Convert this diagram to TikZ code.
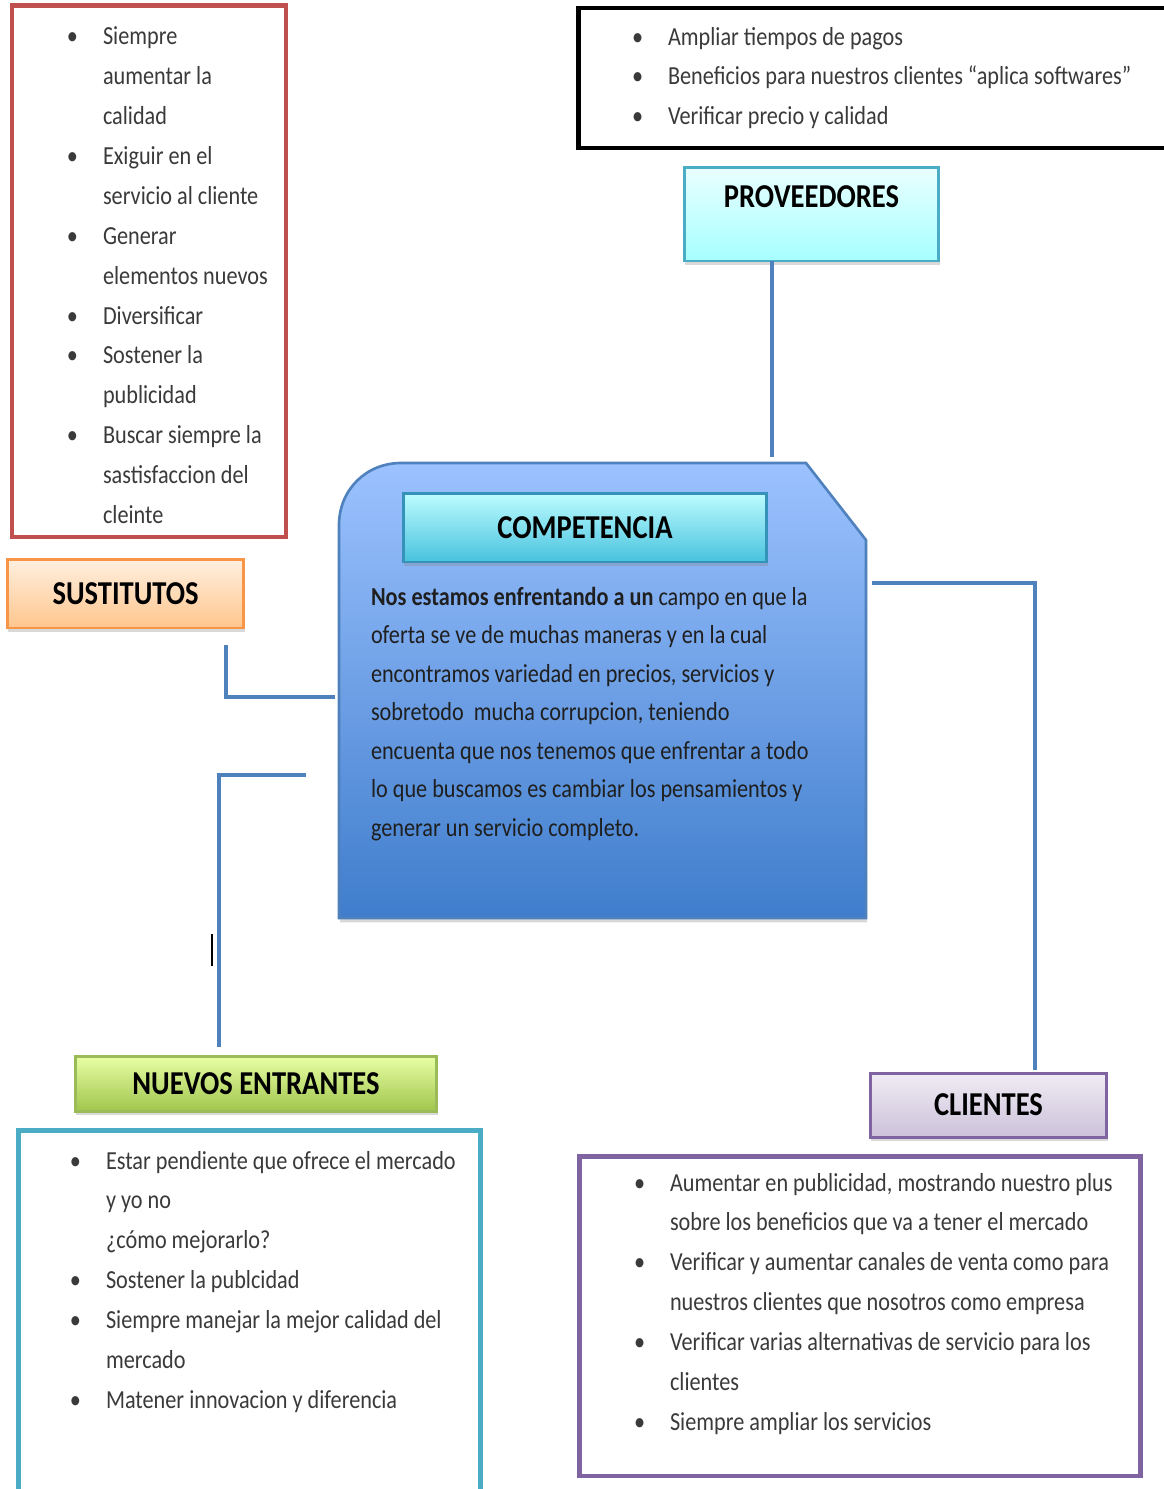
\documentclass[tikz,border=0pt]{standalone}
\usepackage{fontspec}
\setmainfont{Carlito}[FakeStretch=0.855]
\usetikzlibrary{shadows}

\definecolor{linkblue}{HTML}{4F81BD}
\definecolor{sustred}{HTML}{C0504D}
\definecolor{listcyan}{HTML}{4BACC6}
\definecolor{cliepurple}{HTML}{8064A2}
\definecolor{sustorange}{HTML}{F79646}
\definecolor{nuevgreen}{HTML}{9BBB59}
\definecolor{listgray}{HTML}{3A3A3A}
\definecolor{comptop}{HTML}{9CC2FF}
\definecolor{compbottom}{HTML}{3F7DCC}
\definecolor{cyantop}{HTML}{BDFCFF}
\definecolor{cyanbottom}{HTML}{48C2DE}

\newcommand{\bul}{\makebox[20.5pt][l]{\textbullet}}
\newcommand{\ind}{\hspace*{20.5pt}}

\begin{document}
\begin{tikzpicture}[
    x=0.02cm, y=-0.02cm,
    every node/.style={inner sep=0pt, outer sep=0pt},
    link/.style={draw=linkblue, line width=2.8pt},
    listbox/.style={draw=#1, line width=2.8pt, fill=white},
    listtext/.style={anchor=north west, align=left, text=listgray,
        font=\fontsize{14.8}{22.7}\selectfont},
    titlebox/.style={draw=#1, line width=1.7pt, align=center,
        font=\bfseries\fontsize{19}{22}\selectfont,
        drop shadow={shadow xshift=0.6pt, shadow yshift=-2.2pt, opacity=0.3}},
    compshape/.style={draw=linkblue, line width=1.5pt,
        top color=comptop, bottom color=compbottom,
        drop shadow={shadow xshift=0.6pt, shadow yshift=-2.5pt, opacity=0.3}},
    paratext/.style={anchor=north west, align=left, text=black!88,
        font=\fontsize{14.8}{21.9}\selectfont}
]
\useasboundingbox (0,0) rectangle (1164,1489);

% === Lists ===
\node[listbox=sustred, minimum width=5.48cm, minimum height=10.64cm] (sustbox) at (149,271) {};
\node[listtext] (sustlist) at (67,27) {%
\bul Siempre\\ \ind aumentar la\\ \ind calidad\\
\bul Exiguir en el\\ \ind servicio al cliente\\
\bul Generar\\ \ind elementos nuevos\\
\bul Diversificar\\
\bul Sostener la\\ \ind publicidad\\
\bul Buscar siempre la\\ \ind sastisfaccion del\\ \ind cleinte};

\node[listbox=black, minimum width=11.94cm, minimum height=2.8cm] (provbox) at (876.5,78) {};
\node[listtext] (provlist) at (632,27) {%
\bul Ampliar tiempos de pagos\\
\bul Beneficios para nuestros clientes “aplica softwares”\\
\bul Verificar precio y calidad};

\node[listbox=listcyan, minimum width=9.26cm, minimum height=7.6cm] (nuevbox) at (249.5,1320) {};
\node[listtext] (nuevlist) at (70,1151) {%
\bul Estar pendiente que ofrece el mercado\\ \ind y yo no\\ \ind ¿cómo mejorarlo?\\
\bul Sostener la publcidad\\
\bul Siempre manejar la mejor calidad del\\ \ind mercado\\
\bul Matener innovacion y diferencia};

\node[listbox=cliepurple, minimum width=11.24cm, minimum height=6.4cm] (cliebox) at (860,1316) {};
\node[listtext] (clielist) at (634,1173) {%
\bul Aumentar en publicidad, mostrando nuestro plus\\ \ind sobre los beneficios que va a tener el mercado\\
\bul Verificar y aumentar canales de venta como para\\ \ind nuestros clientes que nosotros como empresa\\
\bul Verificar varias alternativas de servicio para los\\ \ind clientes\\
\bul Siempre ampliar los servicios};

% === Competencia ===
\draw[compshape] (339,918) -- (339,525) .. controls (339,490) and (366,463) .. (401,463)
    -- (806,463) -- (866,540) -- (866,918) -- cycle;
\node[titlebox=cyan!45!teal, top color=cyantop, bottom color=cyanbottom,
    minimum width=7.28cm, minimum height=1.38cm] (comp) at (585,527.5) {COMPETENCIA};
\node[paratext] (comptxt) at (371,587) {%
\textbf{Nos estamos enfrentando a un} campo en que la\\
oferta se ve de muchas maneras y en la cual\\
encontramos variedad en precios, servicios y\\
sobretodo\ \ mucha corrupcion, teniendo\\
encuenta que nos tenemos que enfrentar a todo\\
lo que buscamos es cambiar los pensamientos y\\
generar un servicio completo.};

% === Forces ===
\node[titlebox=listcyan, top color=cyan!8!white, bottom color=cyan!35!white,
    minimum width=5.1cm, minimum height=1.88cm, text depth=0.68cm] (prov) at (811.5,214) {PROVEEDORES};
\node[titlebox=sustorange, top color=orange!12!white, bottom color=orange!45!white,
    minimum width=4.74cm, minimum height=1.38cm] (sust) at (125.5,593.5) {SUSTITUTOS};
\node[titlebox=nuevgreen, top color=lime!35!white, bottom color=nuevgreen!85!lime,
    minimum width=7.24cm, minimum height=1.1cm] (nuev) at (256,1083.5) {NUEVOS ENTRANTES};
\node[titlebox=cliepurple, top color=cliepurple!12!white, bottom color=cliepurple!40!white,
    minimum width=4.74cm, minimum height=1.28cm] (clie) at (988.5,1105) {CLIENTES};

% ============ LINKS ============
\coordinate (pv) at (772,457);
\coordinate (s1) at (226,645);
\coordinate (s2) at (335,697);
\coordinate (n1) at (306,775);
\coordinate (n2) at (219,1047);
\coordinate (c1) at (872,583);
\coordinate (c2) at (1035,1070);

\draw[link] (prov.south -| pv) -- (pv);
\draw[link] (s1) |- (s2);
\draw[link] (n1) -| (n2);
\draw[link] (c1) -| (c2);

% cursor mark
\draw[line width=1pt] (212,934) -- (212,966);

\end{tikzpicture}
\end{document}
